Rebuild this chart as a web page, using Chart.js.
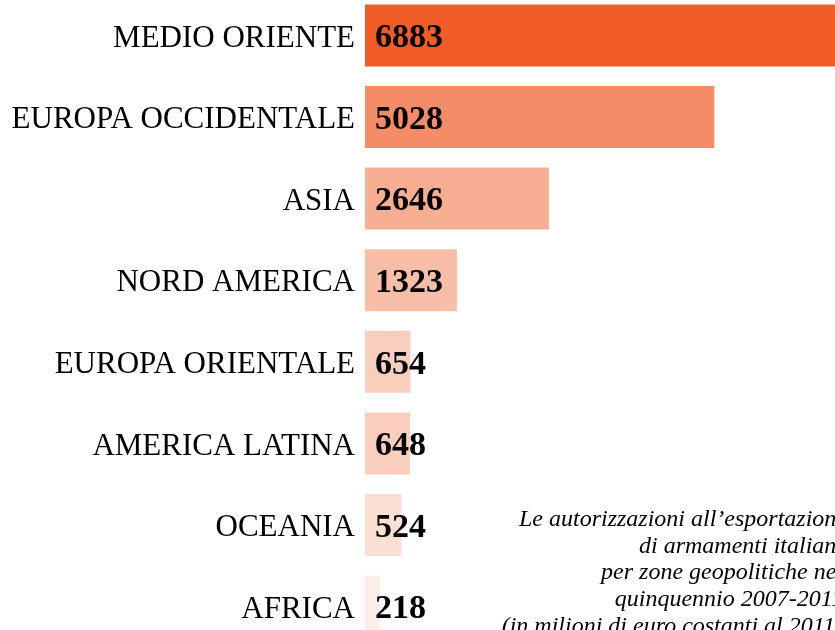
<!DOCTYPE html>
<html>
<head>
<meta charset="utf-8">
<script src="https://cdn.jsdelivr.net/npm/chart.js@4/dist/chart.umd.min.js"></script>
<style>
  html, body { margin: 0; padding: 0; background: #fff; overflow: hidden; width: 835px; height: 630px; }
  #wrap { position: absolute; left: 0; top: -26px; width: 900px; height: 694px; }
</style>
</head>
<body>
<div id="wrap"><canvas id="chart"></canvas></div>
<script>
const categories = ['MEDIO ORIENTE', 'EUROPA OCCIDENTALE', 'ASIA', 'NORD AMERICA',
    'EUROPA ORIENTALE', 'AMERICA LATINA', 'OCEANIA', 'AFRICA'];
const values = [6883, 5028, 2646, 1323, 654, 648, 524, 218];
const barColors = ['#f15c27', '#f58c68', '#f8ae92', '#f9bea8', '#f9cebd', '#f9cebd', '#fbdfd3', '#fdede8'];
const noteLines = [
    'Le autorizzazioni all\u2019esportazioni',
    'di armamenti italiani',
    'per zone geopolitiche nel',
    'quinquennio 2007-2011',
    '(in milioni di euro costanti al 2011)'
];

const serif = '"Liberation Serif", "DejaVu Serif", serif';
const pageTop = 26; // canvas sits this far above the page

// numbers written at the start of each bar
const valueLabels = {
    id: 'valueLabels',
    afterDatasetsDraw(chart) {
        const { ctx } = chart;
        ctx.save();
        ctx.font = 'bold 34px ' + serif;
        ctx.fillStyle = '#000';
        ctx.textAlign = 'left';
        ctx.textBaseline = 'middle';
        chart.getDatasetMeta(0).data.forEach((bar, i) => {
            ctx.fillText(values[i], chart.chartArea.left + 10, bar.y + 3);
        });
        ctx.restore();
    }
};

// italic note, bottom right
const note = {
    id: 'note',
    afterDraw(chart) {
        const { ctx } = chart;
        ctx.save();
        ctx.font = 'italic 24px ' + serif;
        ctx.fillStyle = '#000';
        ctx.textAlign = 'right';
        ctx.textBaseline = 'alphabetic';
        noteLines.forEach((line, i) => {
            ctx.fillText(line, 843, pageTop + 526 + i * 26.7);
        });
        ctx.restore();
    }
};

new Chart(document.getElementById('chart').getContext('2d'), {
    type: 'bar',
    data: {
        labels: categories,
        datasets: [{
            data: values,
            backgroundColor: barColors,
            borderWidth: 0,
            barPercentage: 0.76,
            categoryPercentage: 1
        }]
    },
    options: {
        indexAxis: 'y',
        responsive: true,
        maintainAspectRatio: false,
        animation: false,
        layout: { padding: 0 },
        plugins: {
            legend: { display: false },
            tooltip: { enabled: false }
        },
        scales: {
            x: {
                min: 0,
                max: 7700,
                display: false
            },
            y: {
                grid: { display: false },
                border: { display: false },
                ticks: {
                    color: '#000',
                    padding: 2,
                    labelOffset: 3,
                    font: { family: serif, size: 31 }
                },
                afterFit(scale) { scale.width = 365; }
            }
        }
    },
    plugins: [valueLabels, note]
});
</script>
</body>
</html>
